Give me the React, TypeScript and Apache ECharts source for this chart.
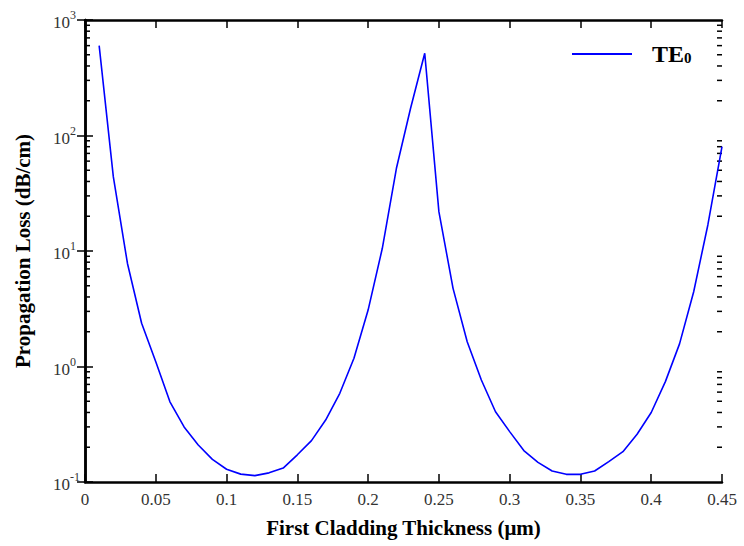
import React, { useEffect, useRef } from "react";
import * as echarts from "echarts";

const thickness = [
  0.01, 0.02, 0.03, 0.04, 0.05, 0.06, 0.07, 0.08, 0.09, 0.1,
  0.11, 0.12, 0.13, 0.14, 0.15, 0.16, 0.17, 0.18, 0.19, 0.2,
  0.21, 0.22, 0.23, 0.24, 0.25, 0.26, 0.27, 0.28, 0.29, 0.3,
  0.31, 0.32, 0.33, 0.34, 0.35, 0.36, 0.37, 0.38, 0.39, 0.4,
  0.41, 0.42, 0.43, 0.44, 0.45,
];
const lossTE0 = [
  600, 44, 7.8, 2.37, 1.1, 0.495, 0.3, 0.209, 0.157, 0.129,
  0.117, 0.1135, 0.12, 0.132, 0.172, 0.228, 0.344, 0.586, 1.18, 3.08,
  10.5, 52, 172, 515, 21.9, 4.75, 1.64, 0.764, 0.406, 0.273,
  0.187, 0.148, 0.1245, 0.1165, 0.1165, 0.1245, 0.15, 0.183, 0.259, 0.4,
  0.74, 1.57, 4.44, 16.8, 80,
];
const decades = [0.1, 1, 10, 100];
const minorMultipliers = [2, 3, 4, 5, 6, 7, 8, 9];
const xMin = 0;
const xMax = 0.45;

const FONT = "'Liberation Serif', 'Times New Roman', serif";

export default function App() {
  const ref = useRef<HTMLDivElement>(null);
  useEffect(() => {
    if (!ref.current) return;
    const chart = echarts.init(ref.current, null, { renderer: "svg" });
    const minorVals: number[] = [];
    decades.forEach((d) => minorMultipliers.forEach((m) => minorVals.push(d * m)));

    const yLabel = {
      show: true,
      margin: 32,
      align: "left" as const,
      fontFamily: FONT,
      formatter: (v: number) => {
        const e = Math.round(Math.log10(v));
        return `{b|10}{s|${e}}`;
      },
      rich: {
        b: { fontFamily: FONT, fontSize: 17, color: "#333", verticalAlign: "bottom", lineHeight: 22 },
        s: { fontFamily: FONT, fontSize: 12, color: "#333", verticalAlign: "top", lineHeight: 12 },
      },
    };

    const tickStyle = { color: "#000", width: 1.5 };
    chart.setOption({
      animation: false,
      backgroundColor: "#fff",
      textStyle: { fontFamily: FONT },
      grid: { left: 85, right: 22, top: 20, bottom: 64 },
      legend: {
        left: 572,
        top: 42,
        padding: 0,
        itemWidth: 60,
        itemHeight: 2,
        data: [{ name: "TE0", icon: "rect" }],
        formatter: () => "{a|TE}{b|0}",
        textStyle: {
          fontFamily: FONT,
          rich: {
            a: { fontFamily: FONT, fontSize: 24, fontWeight: "bold", color: "#000", padding: [0, 0, 0, 15] },
            b: { fontFamily: FONT, fontSize: 15, fontWeight: "bold", color: "#000", padding: [8, 0, 0, 0] },
          },
        },
      },
      xAxis: [
        {
          type: "value",
          min: xMin,
          max: xMax,
          interval: 0.05,
          name: "First Cladding Thickness (\u03bcm)",
          nameLocation: "middle",
          nameGap: 35,
          nameTextStyle: { fontFamily: FONT, fontSize: 21, fontWeight: "bold", color: "#000" },
          axisLine: { show: true, lineStyle: { color: "#000", width: 2.5 } },
          axisTick: { show: true, inside: true, length: 8, lineStyle: tickStyle },
          axisLabel: { margin: 9, fontFamily: FONT, fontSize: 17, color: "#333" },
          splitLine: { show: false },
        },
        {
          type: "value",
          position: "top",
          min: xMin,
          max: xMax,
          interval: 0.05,
          axisLine: { show: true, lineStyle: { color: "#000", width: 2.5 } },
          axisTick: { show: true, inside: true, length: 8, lineStyle: tickStyle },
          axisLabel: { show: false },
          splitLine: { show: false },
        },
      ],
      yAxis: [
        {
          type: "log",
          logBase: 10,
          min: 0.1,
          max: 1000,
          interval: 1,
          name: "Propagation Loss (dB/cm)",
          nameLocation: "middle",
          nameGap: 52,
          nameTextStyle: { fontFamily: FONT, fontSize: 21, fontWeight: "bold", color: "#000" },
          axisLine: { show: true, lineStyle: { color: "#000", width: 2.5 } },
          axisTick: { show: true, inside: true, length: 8, lineStyle: tickStyle },
          axisLabel: yLabel,
          splitLine: { show: false },
        },
        {
          type: "log",
          logBase: 10,
          min: 0.1,
          max: 1000,
          interval: 1,
          position: "right",
          axisLine: { show: true, lineStyle: { color: "#000", width: 2.5 } },
          axisTick: { show: true, inside: true, length: 8, lineStyle: tickStyle },
          axisLabel: { show: false },
          splitLine: { show: false },
        },
      ],
      series: [
        {
          name: "TE0",
          type: "line",
          xAxisIndex: 0,
          yAxisIndex: 0,
          symbol: "none",
          lineStyle: { color: "#0000ff", width: 1.6 },
          itemStyle: { color: "#0000ff" },
          data: thickness.map((x, i) => [x, lossTE0[i]]),
        },
      ],
    });

    const finder = { xAxisIndex: 0, yAxisIndex: 0 };
    const graphics: any[] = [];
    minorVals.forEach((v) => {
      const pl = chart.convertToPixel(finder, [xMin, v]) as number[];
      const pr = chart.convertToPixel(finder, [xMax, v]) as number[];
      const st = { stroke: "#000", lineWidth: 1.5 };
      graphics.push({ type: "line", silent: true, shape: { x1: pl[0], y1: pl[1], x2: pl[0] + 5, y2: pl[1] }, style: st });
      graphics.push({ type: "line", silent: true, shape: { x1: pr[0] - 5, y1: pr[1], x2: pr[0], y2: pr[1] }, style: st });
    });
    chart.setOption({ graphic: graphics });

    return () => chart.dispose();
  }, []);
  return (
    <div
      ref={ref}
      style={{ position: "fixed", left: 0, top: 0, width: 744, height: 546 }}
    />
  );
}
